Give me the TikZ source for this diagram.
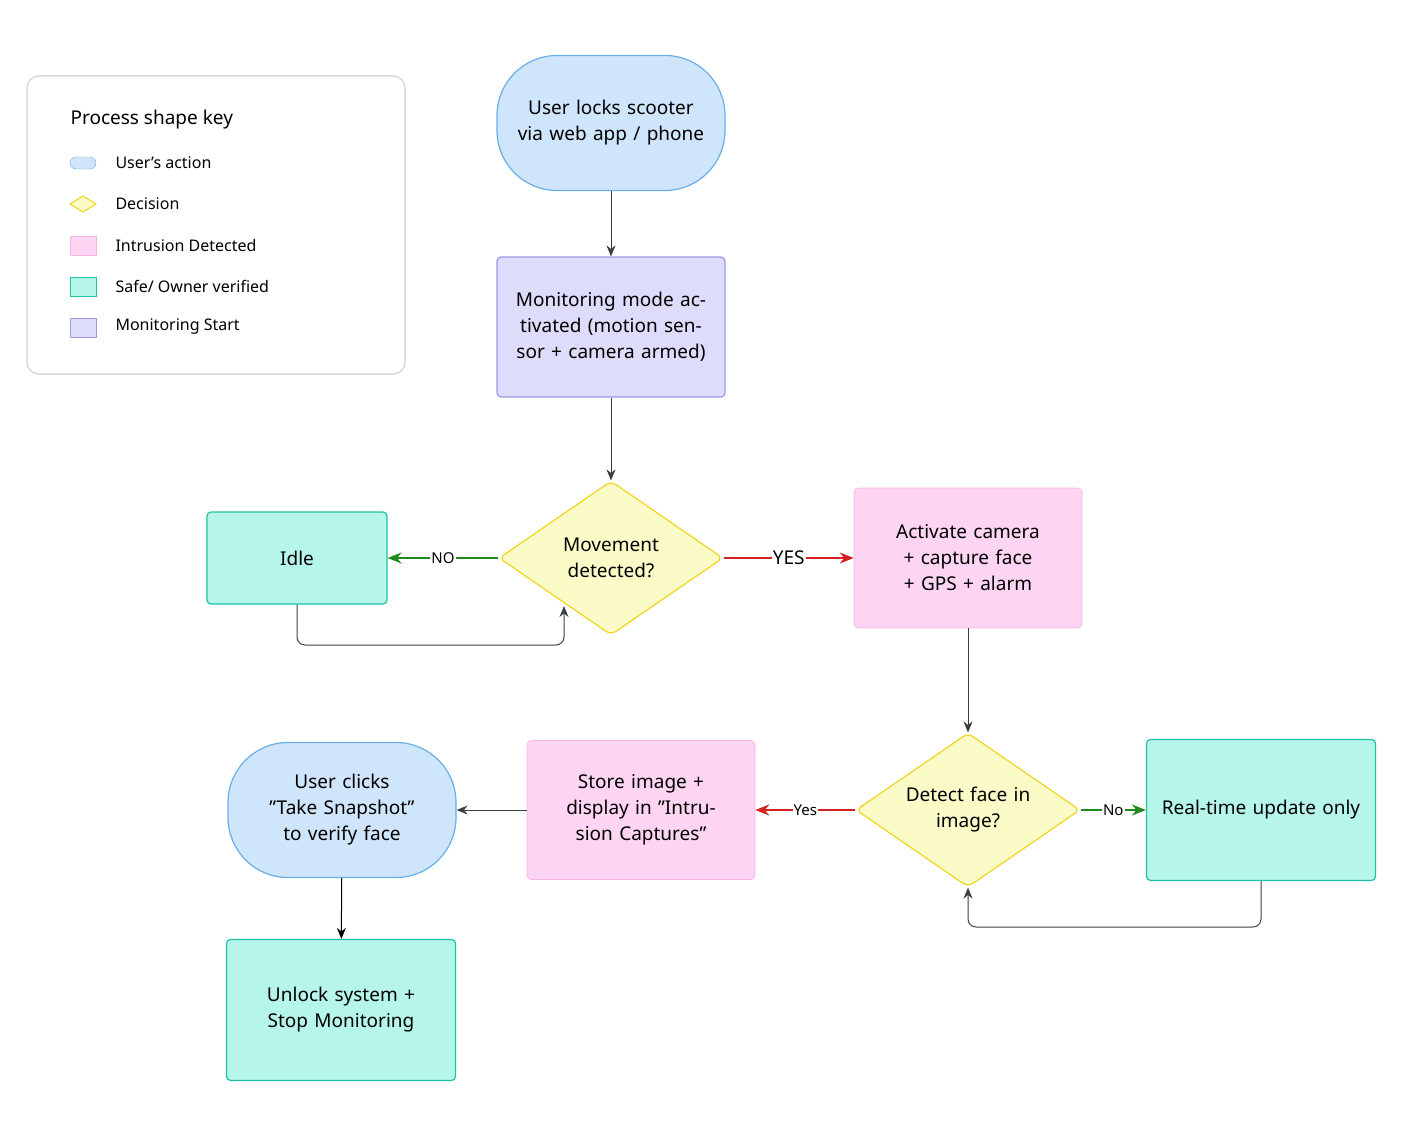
\documentclass[tikz,border=0pt]{standalone}
\usepackage{fontspec}
\setmainfont{Noto Sans}
\usetikzlibrary{shapes.geometric,arrows.meta}
\definecolor{ublue}{HTML}{CFE5FB}\definecolor{ubluel}{HTML}{6AAEE8}
\definecolor{mon}{HTML}{DDDDFB}\definecolor{monl}{HTML}{9A9AE8}
\definecolor{dec}{HTML}{FBFBC8}\definecolor{decl}{HTML}{F2D41E}
\definecolor{safe}{HTML}{B5F5EA}\definecolor{safel}{HTML}{1EC4A4}
\definecolor{intr}{HTML}{FDD5F3}\definecolor{intrl}{HTML}{F9B5E8}
\definecolor{gline}{HTML}{3A3F47}\definecolor{ggreen}{HTML}{1E8A1E}\definecolor{rred}{HTML}{D42020}
\tikzset{
 base/.style={draw,line width=1.2pt,align=center,font=\fontsize{19}{26}\selectfont,inner sep=0pt},
 act/.style={base,fill=ublue,draw=ubluel,rounded corners=60pt,minimum width=228pt,minimum height=135pt,text width=200pt},
 mon/.style={base,fill=mon,draw=monl,rounded corners=4pt,minimum width=228pt,minimum height=140pt,text width=200pt},
 dec/.style={base,diamond,fill=dec,draw=decl,rounded corners=6pt,minimum width=224pt,minimum height=154pt,aspect=1.45,text width=130pt},
 safe/.style={base,fill=safe,draw=safel,rounded corners=4pt,text width=200pt},
 intr/.style={base,fill=intr,draw=intrl,line width=0.6pt,rounded corners=4pt,minimum width=228pt,minimum height=140pt,text width=200pt},
 arr/.style={draw=gline,line width=1pt,-{Stealth[length=11pt,width=9pt]}},
 garr/.style={draw=ggreen,line width=2pt,-{Stealth[length=14pt,width=11pt]}},
 rarr/.style={draw=rred,line width=2pt,-{Stealth[length=14pt,width=11pt]}},
 lab/.style={fill=white,inner sep=1pt,font=\bfseries\fontsize{15}{18}\selectfont},
 key/.style={font=\fontsize{16}{20}\selectfont,anchor=west}
}
\begin{document}
\begin{tikzpicture}[x=1pt,y=-1pt]
\useasboundingbox (0,0) rectangle (1418,1121);
% legend
\draw[draw=black!15,line width=1.5pt,rounded corners=12pt] (27,76) rectangle (405,374);
\node[key,font=\bfseries\fontsize{19}{22}\selectfont] (kt) at (67,120) {Process shape key};
\draw[fill=ublue,draw=ubluel,rounded corners=6pt] (70,157) rectangle (96,169);
\node[key] (k1) at (112,163) {User's action};
\draw[fill=dec,draw=decl,line width=1pt] (70,204)--(83,196)--(96,204)--(83,212)--cycle;
\node[key] (k2) at (112,204) {Decision};
\draw[fill=intr,draw=intrl] (70,236) rectangle (96,255);
\node[key] (k3) at (112,245) {Intrusion Detected};
\draw[fill=safe,draw=safel] (70,277) rectangle (96,296);
\node[key] (k4) at (112,286) {Safe/ Owner verified};
\draw[fill=mon,draw=monl] (70,318) rectangle (96,337);
\node[key] (k5) at (112,327) {Monitoring Start};
% nodes
\node[act] (start) at (611,123) {User locks scooter via web app / phone};
\node[mon] (monit) at (611,327) {Monitoring mode activated (motion sensor + camera armed)};
\node[dec] (move) at (611,558) {Movement\\detected?};
\node[safe,minimum width=180pt,minimum height=92pt,text width=160pt] (idle) at (297,558) {Idle};
\node[intr] (activ) at (968,558) {Activate camera + capture face + GPS + alarm};
\node[dec] (face) at (968,810) {Detect face in\\image?};
\node[safe,minimum width=229pt,minimum height=141pt] (rt) at (1261,810) {Real-time update only};
\node[intr,minimum height=139pt] (store) at (641,810) {Store image + display in "Intrusion Captures"};
\node[act] (snap) at (342,810) {User clicks "Take Snapshot" to verify face};
\node[safe,minimum width=229pt,minimum height=141pt] (unlock) at (341,1010) {Unlock system + Stop Monitoring};
% edges
\draw[arr] (start) -- (monit);
\draw[arr] (monit) -- (move);
\draw[garr] (move) -- node[lab]{NO} (idle);
\draw[rarr] (move) -- node[lab,font=\bfseries\fontsize{19}{22}\selectfont]{YES} (activ);
\coordinate (mv) at (564,606);
\draw[arr,rounded corners=8pt] (idle.south) -- (297,645) -- (564,645) -- (mv);
\draw[arr] (activ) -- (face);
\draw[rarr] (face) -- node[lab]{Yes} (store);
\draw[garr] (face) -- node[lab]{No} (rt);
\draw[arr,rounded corners=8pt] (rt.south) -- (1261,927) -- (968,927) -- (face.south);
\draw[arr] (store) -- (snap);
\draw[arr,draw=black] (snap) -- (unlock);
\end{tikzpicture}
\end{document}
